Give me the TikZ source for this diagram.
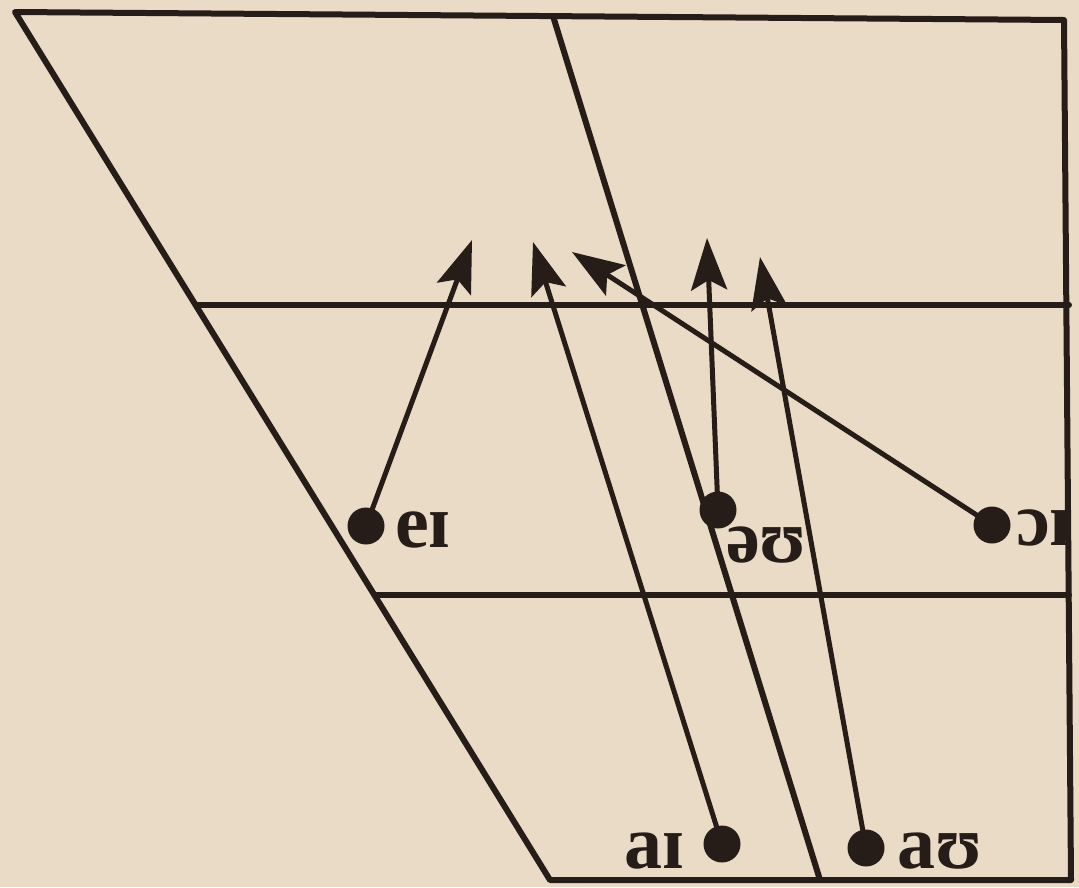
\documentclass[tikz,border=0pt]{standalone}
\usepackage{fontspec}
\setmainfont{Liberation Serif}
\usetikzlibrary{arrows.meta}
\definecolor{paper}{RGB}{233,219,197}
\definecolor{ink}{RGB}{38,28,24}
\begin{document}
\begin{tikzpicture}[x=1pt,y=-1pt,
  frame/.style={draw=ink,line width=6pt,line cap=round,line join=round},
  dot/.style={circle,fill=ink,inner sep=0pt,minimum size=37pt},
  glide/.style={draw=ink,line width=5pt,-{Stealth[length=52pt,width=36pt,inset=10pt]}},
  lab/.style={text=ink,font=\fontsize{76}{80}\selectfont\bfseries,inner sep=0pt,anchor=base west}]
\fill[paper] (0,0) rectangle (1079,887);
\useasboundingbox (0,0) rectangle (1079,887);
% frame
\coordinate (TL) at (15,12);
\coordinate (TM) at (553,16);
\coordinate (TR) at (1064,20);
\coordinate (BR) at (1071,880);
\coordinate (BM) at (820,880);
\coordinate (BL) at (550,880);
\coordinate (HL1) at (196,305);
\coordinate (HR1) at (1069,305);
\coordinate (HL2) at (376,595);
\coordinate (HR2) at (1069,595);
\draw[frame] (TL) -- (TR) -- (BR) -- (BL) -- cycle;
\draw[frame] (TM) -- (BM);
\draw[frame] (HL1) -- (HR1);
\draw[frame] (HL2) -- (HR2);
% dots
\node[dot] (ei) at (366,526) {};
\node[dot] (ou) at (718,510) {};
\node[dot] (oi) at (992,525) {};
\node[dot] (ai) at (722,844) {};
\node[dot] (au) at (866,848) {};
% arrow tips
\coordinate (eiT) at (472,240);
\coordinate (aiT) at (533,242);
\coordinate (oiT) at (572,252);
\coordinate (ouT) at (707,238);
\coordinate (auT) at (760,257);
\draw[glide] (ei.center) -- (eiT);
\draw[glide] (ai.center) -- (aiT);
\draw[glide] (oi.center) -- (oiT);
\draw[glide] (ou.center) -- (ouT);
\draw[glide] (au.center) -- (auT);
% labels
\node[lab] (eiL) at (395,547) {eɪ};
\node[lab] (ouL) at (726,562) {əʊ};
\node[lab] (oiL) at (1016,545) {ɔɪ};
\node[lab] (aiL) at (624,868) {aɪ};
\node[lab] (auL) at (897,868) {aʊ};
\end{tikzpicture}
\end{document}
